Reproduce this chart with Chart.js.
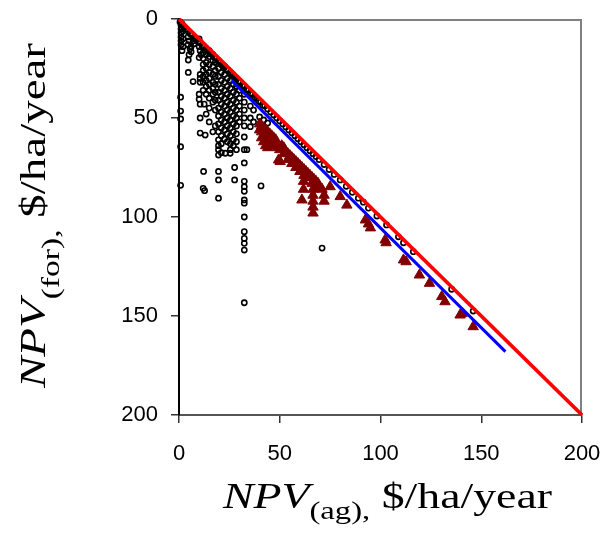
<!DOCTYPE html>
<html>
<head>
<meta charset="utf-8">
<script src="https://cdn.jsdelivr.net/npm/chart.js@4.4.1/dist/chart.umd.min.js"></script>
<style>
  html, body { margin: 0; padding: 0; background: #ffffff; }
  #wrap { width: 607px; height: 536px; }
</style>
</head>
<body>
<div id="wrap"><canvas id="c" width="607" height="536"></canvas></div>
<script>
// ---- data ----
const xTickValues = [0, 50, 100, 150, 200];
const yTickValues = [0, 50, 100, 150, 200];

// parity line NPV(for) = NPV(ag)
const parityLine = [[0, 0], [200, 200]];
// fitted line through the triangles
const fitLine = [[26, 31], [162, 168]];

// open black circles
const circlePoints = [
  [0.5,1.5],[1.5,2.5],[2.5,4],[3.5,5],[4.5,6],[5.5,7.5],[6.5,8],[7.5,9.5],[8.5,10],[9.5,11.5],
  [10.5,12],[11.5,13.5],[12.5,14],[13.5,15.5],[14.5,16],[15.5,17.5],[16.5,18],[17.5,19.5],[18.5,20],[19.5,21.5],
  [20.5,22],[21.5,23.5],[22.5,24],[23.5,25.5],[24.5,26],[25.5,27.5],[26.5,28],[27.5,29.5],[28.5,30],[29.5,31.5],
  [30.5,32],[31.5,33.5],[32.5,34],[33.5,35.5],[34.5,36],[35.5,37.5],[36.5,38],[37.5,39.5],[38.5,40],[39.5,41.5],
  [40.5,42],[41.5,43.5],[42.5,44],[44,45.5],[45.5,47],[47,48.5],[48.5,50],[50,51.5],[51.5,53],[53,54.5],
  [54.5,56],[56,57.5],[57.5,59],[59,60.5],[60.5,62],[62,63.5],[63.5,65],[65,66.5],[66.5,68],[68,69.5],[69.5,71],
  [72,73.5],[74.5,76],[77,78.5],[80,81.3],[83,84.5],[86,87.5],[89,90.5],[91.5,92.5],[94,95.5],[98.2,99.5],
  [103,104],[108.9,110],[111.4,113],[116.3,117.5],[135.3,136.5],[146,147.5],
  [1,3],[1,5],[1,7],[1,9],[1,11],[1,13],[0.8,39.5],[0.8,46.5],[0.8,50.5],[0.8,64.5],[0.8,84],[1.5,16],[2,6],[2,10],[2,14],
  [4.5,9],[5,11],[4.5,13],[5.5,15],[6,16.5],[5,18],[4.6,20.7],[4.6,27],[7,31.6],[6,14],[7,11],[7.5,12.5],
  [10,10],[10.5,12],[10,14],[10.5,16],[11,18],[10,19.5],[10.5,28],[10.5,30],[10.5,32],[10,38],[10,40.5],[10.5,43],[10.5,50],[10.5,57.6],
  [12,14],[12,17],[12,20],[12,23],[12,26],[12,29],[12,32],[12,36],[12.5,43],[13,58.6],[12.2,77],[12.7,86.7],[12,85.5],
  [13.5,15],[13.5,18],[13.5,22],[13.5,25],[13.5,28],[13.5,31],[13.5,34],[13.5,38],[13.5,48],
  [15,16],[15,19],[15,23],[15,27],[15,30],[15,33],[15,36],[15,40],[15,45],[15,52],
  [16.8,18],[16.8,21],[16.8,24],[16.8,28],[16.8,32],[16.8,35],[16.8,38],[16.8,42],[16.8,57],
  [18,19.5],[18,22],[18,26],[18,29],[18,33],[18,37],[18,41],[18,46],[18,54],
  [19.6,21],[19.6,25],[19.6,29],[19.6,33],[19.6,37],[19.6,41],[19.6,45],[19.6,49],[19.6,53],[19.6,57],[19.6,61],[19.6,64],[19.6,66],[19.6,68.7],[19.6,77],[19.6,81.3],[19.6,90.5],
  [21,23],[21,27],[21,31],[21,35],[21,39],[21,43],[21,47],[21,51],[21,55],[21,59],[21,63],[21,67.5],
  [22.6,24],[22.6,28],[22.6,32],[22.6,36],[22.6,40],[22.6,44],[22.6,48],[22.6,52],[22.6,56],[22.6,60.6],
  [24,26],[24,30],[24,34],[24,38],[24,42],[24,46],[24,50],[24,54],[24,58],[24,62],[23,67.8],[25.4,67.8],
  [25.5,27],[25.5,31],[25.5,35],[25.5,39],[25.5,43],[25.5,47],[25.5,51],[25.5,55],[25.5,59],[25.5,63],[25.5,66],
  [27,29],[27,33],[27,37],[27,41],[27,45],[27,49],[27,53],[27,57],[27,61],[27,64],[27.6,75],[27.6,81.3],
  [28.5,30],[28.5,34],[28.5,38],[28.5,42],[28.5,46],[28.5,50],[28.5,54],[28.5,58],[28.5,62],[28.5,66],
  [30,32],[30,36],[30,40],[30,44],[30,48],[30,52],
  [32.4,34],[32.4,38],[32.4,42],[32.4,46],[32.4,50],[32.4,54],[32.4,59.6],[32.4,66],[32.4,72.7],[32.4,82],
  [32.4,84.7],[32.4,87],[32.4,91.4],[32.4,93],[32.4,100],[32.4,107.4],[32.4,110.8],[32.4,113.3],[32.4,116.7],[32.4,143.3],
  [33.7,66],[35.4,38],[35.4,44],[35.4,50],[35.4,54.4],[37,40],[37,46],[37,52],[40.7,84.3],[71,115.7],[40,49.5],[42,51],[44,52.5]
];

// filled dark-red triangles
const trianglePoints = [
  [40,53],[41,54],[42,55],[43,56],[44,57],[45,58],[46,59],[47,60],[48,61],[41,57],[42,59],[43,61],[44,63],
  [45,62],[46,64],[47,63],[40,56],[41,60],[42,62],[43,64],[44,65],[48,64],[49,65],[50,66],
  [51,64],[52,65],[53,67],[54,68],[55,69],[56,70],[57,71],[58,72],[59,73],[60,74],[61,75],[62,76],[63,77],
  [64,78],[65,79],[66,80],[67,81],[68,82],[69,83],[52,68],[54,71],[56,73],[58,75],[60,77],[62,79],[64,80],
  [66,83],[68,85],[49.4,71.2],[50.2,72],[61,91.4],[61.8,82],[61.8,86],
  [66.5,86],[66.5,89],[66.5,92],[66.5,95],[66.5,98],[71,86],[72,89],[72,92],[75,84.7],[80,89.7],[83.3,94],
  [92.5,101.5],[94,103.5],[95,105.5],[102.3,111.6],[102.8,113],[111.4,121.7],[112.7,122.6],[119.3,129.3],
  [124.3,133.5],[130.4,140.2],[132,142.8],[139.5,149.5],[140.5,148.8],[146,155.4]
];

const toXY = arr => arr.map(p => ({ x: p[0], y: p[1] }));

// ---- axis titles drawn as real text (with italic NPV and subscript) ----
const titlePlugin = {
  id: 'titles',
  afterDraw(chart) {
    const ctx = chart.ctx;
    const a = chart.chartArea;
    function drawRich(parts, targetLen) {
      let natural = 0;
      parts.forEach(p => { ctx.font = p.font; natural += ctx.measureText(p.text).width; });
      const sx = targetLen / natural;
      ctx.scale(sx, 1);
      let x = 0;
      parts.forEach(p => {
        ctx.font = p.font;
        ctx.fillText(p.text, x, p.dy);
        x += ctx.measureText(p.text).width;
      });
    }
    ctx.save();
    ctx.fillStyle = '#000000';
    ctx.textBaseline = 'alphabetic';
    ctx.textAlign = 'left';
    // x title
    ctx.save();
    ctx.translate(a.left + 44, a.bottom + 93);
    drawRich([
      { text: 'NPV', font: 'italic 35px "Liberation Serif"', dy: 0 },
      { text: '(ag),', font: '25px "Liberation Serif"', dy: 11 },
      { text: ' $/ha/year', font: '35px "Liberation Serif"', dy: 0 }
    ], 329);
    ctx.restore();
    // y title
    ctx.save();
    ctx.translate(a.left - 134, a.bottom - 27);
    ctx.rotate(-Math.PI / 2);
    drawRich([
      { text: 'NPV', font: 'italic 35px "Liberation Serif"', dy: 0 },
      { text: '(for),', font: '25px "Liberation Serif"', dy: 14 },
      { text: ' $/ha/year', font: '35px "Liberation Serif"', dy: 0 }
    ], 345);
    ctx.restore();
    ctx.restore();
  },
  beforeDatasetsDraw(chart) {
    const ctx = chart.ctx;
    const a = chart.chartArea;
    ctx.save();
    ctx.strokeStyle = '#808080';
    ctx.lineWidth = 2;
    ctx.beginPath();
    ctx.moveTo(a.left, a.top + 1);
    ctx.lineTo(a.right - 1, a.top + 1);
    ctx.lineTo(a.right - 1, a.bottom);
    ctx.stroke();
    ctx.restore();
  }
};

new Chart(document.getElementById('c'), {
  type: 'scatter',
  data: {
    datasets: [
      {
        label: 'parity',
        data: toXY(parityLine),
        showLine: true,
        borderColor: '#ff0000',
        borderWidth: 3.8,
        pointRadius: 0,
        fill: false,
        clip: 4
      },
      {
        label: 'fit',
        data: toXY(fitLine),
        showLine: true,
        borderColor: '#0000ff',
        borderWidth: 3,
        pointRadius: 0,
        fill: false
      },
      {
        label: 'triangles',
        data: toXY(trianglePoints),
        pointStyle: 'triangle',
        pointRadius: 6,
        backgroundColor: '#800000',
        borderColor: '#800000',
        borderWidth: 1
      },
      {
        label: 'circles',
        data: toXY(circlePoints),
        pointStyle: 'circle',
        pointRadius: 2.6,
        backgroundColor: 'rgba(255,255,255,0)',
        borderColor: '#000000',
        borderWidth: 1.6,
        clip: 5
      }
    ]
  },
  options: {
    responsive: false,
    animation: false,
    devicePixelRatio: 1,
    layout: { padding: { top: 19, right: 25, left: 0, bottom: 0 } },
    plugins: { legend: { display: false }, tooltip: { enabled: false } },
    scales: {
      x: {
        type: 'linear',
        min: xTickValues[0],
        max: xTickValues[xTickValues.length - 1],
        afterBuildTicks: s => { s.ticks = xTickValues.map(v => ({ value: v })); },
        afterFit: s => { s.height = 121; s.paddingLeft = 0; s.paddingRight = 0; },
        border: { color: '#555555', width: 2 },
        grid: { drawOnChartArea: false, drawTicks: true, tickLength: 8, color: '#333333', lineWidth: 1.5 },
        ticks: { color: '#000000', font: { family: '"Liberation Sans", Arial', size: 22 }, padding: 18, maxRotation: 0 }
      },
      y: {
        type: 'linear',
        reverse: true,
        min: yTickValues[0],
        max: yTickValues[yTickValues.length - 1],
        afterBuildTicks: s => { s.ticks = yTickValues.map(v => ({ value: v })); },
        afterFit: s => { s.width = 179; s.paddingTop = 0; s.paddingBottom = 0; },
        border: { color: '#000000', width: 2 },
        grid: { drawOnChartArea: false, drawTicks: true, tickLength: 8, color: '#333333', lineWidth: 1.5 },
        ticks: { color: '#000000', font: { family: '"Liberation Sans", Arial', size: 22 }, padding: 13 }
      }
    }
  },
  plugins: [titlePlugin]
});
</script>
</body>
</html>
